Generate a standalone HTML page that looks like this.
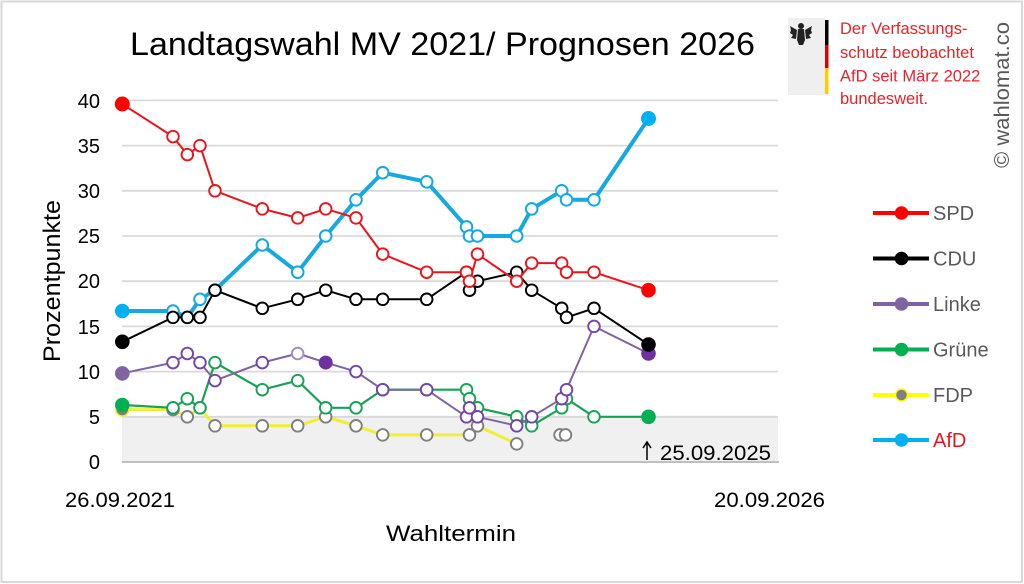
<!DOCTYPE html>
<html><head><meta charset="utf-8">
<style>
html,body{margin:0;padding:0;background:#fff;}
svg{display:block;font-family:"Liberation Sans",sans-serif;}
</style></head>
<body>
<svg width="1024" height="584" viewBox="0 0 1024 584" xmlns="http://www.w3.org/2000/svg">
<rect x="0" y="0" width="1024" height="584" fill="#fff"/>
<rect x="1.5" y="1.5" width="1020.5" height="580.5" fill="none" stroke="#d9d9d9" stroke-width="2"/>

<!-- title -->
<text x="130" y="55" font-size="32" fill="#000" textLength="625" lengthAdjust="spacingAndGlyphs">Landtagswahl MV 2021/ Prognosen 2026</text>

<!-- plot area -->
<rect x="122" y="416.8" width="656" height="45.2" fill="#f0f0f0"/>
<g stroke="#d9d9d9" stroke-width="1.8">
<line x1="122" y1="100.4" x2="778" y2="100.4"/>
<line x1="122" y1="145.6" x2="778" y2="145.6"/>
<line x1="122" y1="190.8" x2="778" y2="190.8"/>
<line x1="122" y1="236" x2="778" y2="236"/>
<line x1="122" y1="281.2" x2="778" y2="281.2"/>
<line x1="122" y1="326.4" x2="778" y2="326.4"/>
<line x1="122" y1="371.6" x2="778" y2="371.6"/>
<line x1="122" y1="416.8" x2="778" y2="416.8"/>
</g>
<line x1="122" y1="462" x2="779" y2="462" stroke="#bfbfbf" stroke-width="2"/>

<!-- y ticks -->
<g font-size="20" fill="#000" text-anchor="end">
<text x="100" y="108">40</text>
<text x="100" y="153">35</text>
<text x="100" y="198">30</text>
<text x="100" y="243">25</text>
<text x="100" y="288">20</text>
<text x="100" y="334">15</text>
<text x="100" y="379">10</text>
<text x="100" y="424">5</text>
<text x="100" y="469">0</text>
</g>
<text transform="translate(60,281) rotate(-90)" text-anchor="middle" font-size="24" fill="#000" textLength="162" lengthAdjust="spacingAndGlyphs">Prozentpunkte</text>

<!-- x labels -->
<text x="65" y="507" font-size="21" fill="#000" textLength="110" lengthAdjust="spacingAndGlyphs">26.09.2021</text>
<text x="714" y="507" font-size="21" fill="#000" textLength="111" lengthAdjust="spacingAndGlyphs">20.09.2026</text>
<text x="386" y="541" font-size="22" fill="#000" textLength="130" lengthAdjust="spacingAndGlyphs">Wahltermin</text>

<!-- annotation -->
<path d="M647 460 L647 443 M643 448 L647 442 L651 448" stroke="#000" stroke-width="1.5" fill="none"/>
<text x="660" y="460" font-size="21" fill="#000" textLength="111" lengthAdjust="spacingAndGlyphs">25.09.2025</text>

<!-- AfD -->
<polyline fill="none" stroke="#16a9e1" stroke-width="4" stroke-linejoin="round" points="122.3,311 173,311 187.3,317.4 200,299.3 215,290.2 262.3,245 297.7,272.2 325.7,236 356,199.8 382.7,172.7 426.7,181.8 466.5,226.9 469.5,236 477.5,236 516.7,236 531.7,208.9 561.7,190.8 566.5,199.8 594,199.8 648.5,118.5"/>
<g fill="#fff" stroke="#16a9e1" stroke-width="2">
<circle cx="173" cy="311" r="5.8"/><circle cx="187.3" cy="317.4" r="5.8"/><circle cx="200" cy="299.3" r="5.8"/><circle cx="215" cy="290.2" r="5.8"/><circle cx="262.3" cy="245" r="5.8"/><circle cx="297.7" cy="272.2" r="5.8"/><circle cx="325.7" cy="236" r="5.8"/><circle cx="356" cy="199.8" r="5.8"/><circle cx="382.7" cy="172.7" r="5.8"/><circle cx="426.7" cy="181.8" r="5.8"/><circle cx="466.5" cy="226.9" r="5.8"/><circle cx="469.5" cy="236" r="5.8"/><circle cx="477.5" cy="236" r="5.8"/><circle cx="516.7" cy="236" r="5.8"/><circle cx="531.7" cy="208.9" r="5.8"/><circle cx="561.7" cy="190.8" r="5.8"/><circle cx="566.5" cy="199.8" r="5.8"/><circle cx="594" cy="199.8" r="5.8"/>
</g>
<circle cx="122.3" cy="311" r="7.3" fill="#00b0f0"/>
<circle cx="648.5" cy="118.5" r="7.5" fill="#00b0f0"/>

<!-- FDP -->
<polyline fill="none" stroke="#f2ee30" stroke-width="3" stroke-linejoin="round" points="122.3,409.6 173,409.6 187.3,416.8 200,407.8 215,425.8 262.3,425.8 297.7,425.8 325.7,416.8 356,425.8 382.7,434.9 426.7,434.9 469.5,434.9 477.5,425.8 516.7,443.9"/>
<g fill="#fff" stroke="#7f7f7f" stroke-width="1.9">
<circle cx="173" cy="409.6" r="5.8"/><circle cx="187.3" cy="416.8" r="5.8"/><circle cx="200" cy="407.8" r="5.8"/><circle cx="215" cy="425.8" r="5.8"/><circle cx="262.3" cy="425.8" r="5.8"/><circle cx="297.7" cy="425.8" r="5.8"/><circle cx="325.7" cy="416.8" r="5.8"/><circle cx="356" cy="425.8" r="5.8"/><circle cx="382.7" cy="434.9" r="5.8"/><circle cx="426.7" cy="434.9" r="5.8"/><circle cx="469.5" cy="434.9" r="5.8"/><circle cx="477.5" cy="425.8" r="5.8"/><circle cx="516.7" cy="443.9" r="5.8"/><circle cx="560" cy="434.9" r="5.8"/><circle cx="565.5" cy="434.9" r="5.8"/>
</g>
<circle cx="122.3" cy="409.6" r="6.5" fill="#808080" stroke="#f2ee30" stroke-width="1.5"/>

<!-- Grüne -->
<polyline fill="none" stroke="#17a255" stroke-width="2.2" stroke-linejoin="round" points="122.3,405 173,407.8 187.3,398.7 200,407.8 215,362.6 262.3,389.7 297.7,380.6 325.7,407.8 356,407.8 382.7,389.7 426.7,389.7 466.5,389.7 469.5,398.7 477.5,407.8 516.7,416.8 531.7,425.8 561.7,407.8 566.5,398.7 594,416.8 648.5,416.8"/>
<g fill="#fff" stroke="#17a255" stroke-width="1.9">
<circle cx="173" cy="407.8" r="5.8"/><circle cx="187.3" cy="398.7" r="5.8"/><circle cx="200" cy="407.8" r="5.8"/><circle cx="215" cy="362.6" r="5.8"/><circle cx="262.3" cy="389.7" r="5.8"/><circle cx="297.7" cy="380.6" r="5.8"/><circle cx="325.7" cy="407.8" r="5.8"/><circle cx="356" cy="407.8" r="5.8"/><circle cx="382.7" cy="389.7" r="5.8"/><circle cx="426.7" cy="389.7" r="5.8"/><circle cx="466.5" cy="389.7" r="5.8"/><circle cx="469.5" cy="398.7" r="5.8"/><circle cx="477.5" cy="407.8" r="5.8"/><circle cx="516.7" cy="416.8" r="5.8"/><circle cx="531.7" cy="425.8" r="5.8"/><circle cx="561.7" cy="407.8" r="5.8"/><circle cx="566.5" cy="398.7" r="5.8"/><circle cx="594" cy="416.8" r="5.8"/>
</g>
<circle cx="122.3" cy="405" r="7.3" fill="#00b050"/>
<circle cx="648.5" cy="416.8" r="7.3" fill="#00b050"/>

<!-- Linke -->
<polyline fill="none" stroke="#8064a2" stroke-width="2" stroke-linejoin="round" points="122.3,373.4 173,362.6 187.3,353.5 200,362.6 215,380.6 262.3,362.6 297.7,353.5 325.7,362.6 356,371.6 382.7,389.7 426.7,389.7 466.5,416.8 469.5,407.8 477.5,416.8 516.7,425.8 531.7,416.8 561.7,398.7 566.5,389.7 594,326.4 648.5,353.5"/>
<g fill="#fff" stroke="#7446a6" stroke-width="1.9">
<circle cx="173" cy="362.6" r="5.8"/><circle cx="187.3" cy="353.5" r="5.8"/><circle cx="200" cy="362.6" r="5.8"/><circle cx="215" cy="380.6" r="5.8"/><circle cx="262.3" cy="362.6" r="5.8"/><circle cx="297.7" cy="353.5" r="5.8" stroke="#a08cc4"/><circle cx="356" cy="371.6" r="5.8"/><circle cx="382.7" cy="389.7" r="5.8"/><circle cx="426.7" cy="389.7" r="5.8"/><circle cx="466.5" cy="416.8" r="5.8"/><circle cx="469.5" cy="407.8" r="5.8"/><circle cx="477.5" cy="416.8" r="5.8"/><circle cx="516.7" cy="425.8" r="5.8"/><circle cx="531.7" cy="416.8" r="5.8"/><circle cx="561.7" cy="398.7" r="5.8"/><circle cx="566.5" cy="389.7" r="5.8"/><circle cx="594" cy="326.4" r="5.8"/>
</g>
<circle cx="122.3" cy="373.4" r="7.3" fill="#8064a2"/>
<circle cx="325.7" cy="362.6" r="7" fill="#7030a0"/>
<circle cx="648.5" cy="353.5" r="7.3" fill="#7030a0"/>

<!-- CDU -->
<polyline fill="none" stroke="#000" stroke-width="2" stroke-linejoin="round" points="122.3,341.8 173,317.4 187.3,317.4 200,317.4 215,290.2 262.3,308.3 297.7,299.3 325.7,290.2 356,299.3 382.7,299.3 426.7,299.3 466.5,272.2 469.5,290.2 477.5,281.2 516.7,272.2 531.7,290.2 561.7,308.3 566.5,317.4 594,308.3 648.5,344.5"/>
<g fill="#fff" stroke="#000" stroke-width="1.9">
<circle cx="173" cy="317.4" r="5.8"/><circle cx="187.3" cy="317.4" r="5.8"/><circle cx="200" cy="317.4" r="5.8"/><circle cx="215" cy="290.2" r="5.8"/><circle cx="262.3" cy="308.3" r="5.8"/><circle cx="297.7" cy="299.3" r="5.8"/><circle cx="325.7" cy="290.2" r="5.8"/><circle cx="356" cy="299.3" r="5.8"/><circle cx="382.7" cy="299.3" r="5.8"/><circle cx="426.7" cy="299.3" r="5.8"/><circle cx="466.5" cy="272.2" r="5.8"/><circle cx="469.5" cy="290.2" r="5.8"/><circle cx="477.5" cy="281.2" r="5.8"/><circle cx="516.7" cy="272.2" r="5.8"/><circle cx="531.7" cy="290.2" r="5.8"/><circle cx="561.7" cy="308.3" r="5.8"/><circle cx="566.5" cy="317.4" r="5.8"/><circle cx="594" cy="308.3" r="5.8"/>
</g>
<circle cx="122.3" cy="341.8" r="7.3" fill="#000"/>
<circle cx="648.5" cy="344.5" r="7.3" fill="#000"/>

<!-- SPD -->
<polyline fill="none" stroke="#e8161c" stroke-width="2" stroke-linejoin="round" points="122.3,104 173,136.6 187.3,154.6 200,145.6 215,190.8 262.3,208.9 297.7,217.9 325.7,208.9 356,217.9 382.7,254.1 426.7,272.2 466.5,272.2 469.5,281.2 477.5,254.1 516.7,281.2 531.7,263.1 561.7,263.1 566.5,272.2 594,272.2 648.5,290.2"/>
<g fill="#fff" stroke="#e8161c" stroke-width="1.9">
<circle cx="173" cy="136.6" r="5.8"/><circle cx="187.3" cy="154.6" r="5.8"/><circle cx="200" cy="145.6" r="5.8"/><circle cx="215" cy="190.8" r="5.8"/><circle cx="262.3" cy="208.9" r="5.8"/><circle cx="297.7" cy="217.9" r="5.8"/><circle cx="325.7" cy="208.9" r="5.8"/><circle cx="356" cy="217.9" r="5.8"/><circle cx="382.7" cy="254.1" r="5.8"/><circle cx="426.7" cy="272.2" r="5.8"/><circle cx="466.5" cy="272.2" r="5.8"/><circle cx="469.5" cy="281.2" r="5.8"/><circle cx="477.5" cy="254.1" r="5.8"/><circle cx="516.7" cy="281.2" r="5.8"/><circle cx="531.7" cy="263.1" r="5.8"/><circle cx="561.7" cy="263.1" r="5.8"/><circle cx="566.5" cy="272.2" r="5.8"/><circle cx="594" cy="272.2" r="5.8"/>
</g>
<circle cx="122.3" cy="104" r="7.5" fill="#ff0000"/>
<circle cx="648.5" cy="290.2" r="7.3" fill="#ff0000"/>

<!-- legend -->
<g stroke-width="4">
<line x1="873" y1="213" x2="929" y2="213" stroke="#ff0000"/>
<line x1="873" y1="258.5" x2="929" y2="258.5" stroke="#000"/>
<line x1="873" y1="304" x2="929" y2="304" stroke="#8064a2"/>
<line x1="873" y1="349.5" x2="929" y2="349.5" stroke="#00b050"/>
<line x1="873" y1="395" x2="929" y2="395" stroke="#ffff00"/>
<line x1="873" y1="440" x2="929" y2="440" stroke="#00b0f0"/>
</g>
<circle cx="901.5" cy="213" r="6.8" fill="#ff0000"/>
<circle cx="901.5" cy="258.5" r="6.8" fill="#000"/>
<circle cx="901.5" cy="304" r="6.8" fill="#8064a2"/>
<circle cx="901.5" cy="349.5" r="6.8" fill="#00b050"/>
<circle cx="901.5" cy="395" r="6" fill="#808080" stroke="#ffff00" stroke-width="1.5"/>
<circle cx="901.5" cy="440" r="6.8" fill="#00b0f0"/>
<g font-size="20" fill="#595959">
<text x="933" y="220">SPD</text>
<text x="933" y="265.5">CDU</text>
<text x="933" y="311">Linke</text>
<text x="933" y="356.5">Grüne</text>
<text x="933" y="402">FDP</text>
<text x="933" y="447" fill="#e8161c">AfD</text>
</g>

<!-- logo box -->
<rect x="788" y="18" width="37" height="77" fill="#efefef"/>
<rect x="825" y="20" width="3.5" height="25" fill="#000"/>
<rect x="825" y="45" width="3.5" height="23" fill="#dd0000"/>
<rect x="825" y="68" width="3.5" height="26" fill="#ffcc00"/>
<g fill="#222">
<circle cx="801" cy="26" r="3"/>
<path d="M798 29 L804 29 L805 40 L803 45 L799 45 L797 40 Z"/>
<path d="M797 30 L790 26 L791 30 L790 33 L793 35 L791 38 L796 39 Z"/>
<path d="M805 30 L812 26 L811 30 L812 33 L809 35 L811 38 L806 39 Z"/>
</g>
<g font-size="16.5" fill="#e3242b">
<text x="840" y="34">Der Verfassungs-</text>
<text x="840" y="58">schutz beobachtet</text>
<text x="840" y="81.5">AfD seit März 2022</text>
<text x="840" y="104">bundesweit.</text>
</g>
<text transform="translate(1009,95) rotate(-90)" text-anchor="middle" font-size="21" fill="#595959" textLength="146" lengthAdjust="spacingAndGlyphs">© wahlomat.co</text>
</svg>
</body></html>
